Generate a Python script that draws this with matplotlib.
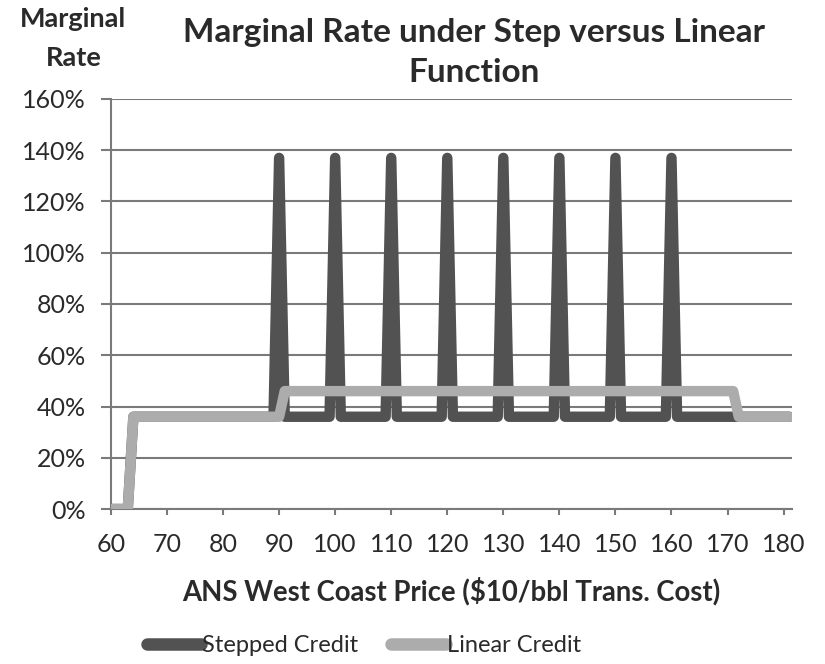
import matplotlib
matplotlib.use("Agg")
import matplotlib.pyplot as plt
from matplotlib.ticker import FuncFormatter
from matplotlib.lines import Line2D

plt.rcParams['font.family'] = ['Lato', 'DejaVu Sans']

# Data (breakpoints of the line series, in % marginal rate)
stepped_x = [60, 63, 64, 89, 90, 91, 99, 100, 101, 109, 110, 111, 119, 120, 121,
             129, 130, 131, 139, 140, 141, 149, 150, 151, 159, 160, 161, 181]
stepped_y = [0, 0, 36, 36, 137, 36, 36, 137, 36, 36, 137, 36, 36, 137, 36,
             36, 137, 36, 36, 137, 36, 36, 137, 36, 36, 137, 36, 36]
linear_x = [60, 63, 64, 90, 91, 171, 172, 181]
linear_y = [0, 0, 36, 36, 46, 46, 36, 36]

x_ticks = [60, 70, 80, 90, 100, 110, 120, 130, 140, 150, 160, 170, 180]
y_ticks = [0, 20, 40, 60, 80, 100, 120, 140, 160]

dark = '#525252'
light = '#acacac'
grid_c = '#7a7a7a'
text_c = '#2a2a2a'

fig = plt.figure(figsize=(8.25, 6.64), dpi=100)
ax = fig.add_axes([0.1345, 0.2334, 0.9600 - 0.1345, 0.851 - 0.2334])

ax.plot(stepped_x, stepped_y, color=dark, lw=7.5, solid_joinstyle='round',
        solid_capstyle='round', zorder=3)
ax.plot(linear_x, linear_y, color=light, lw=7.5, solid_joinstyle='round',
        solid_capstyle='round', zorder=4)

ax.set_xlim(60, 181.5)
ax.set_ylim(0, 160)
ax.set_xticks(x_ticks)
ax.set_yticks(y_ticks)
ax.yaxis.set_major_formatter(FuncFormatter(lambda v, p: f"{int(v)}%"))
ax.grid(axis='y', color=grid_c, lw=1.5, zorder=1)
ax.set_axisbelow(True)
for s in ['top', 'right']:
    ax.spines[s].set_visible(False)
ax.spines['left'].set_color(grid_c)
ax.spines['bottom'].set_color(grid_c)
ax.spines['left'].set_linewidth(1.5)
ax.spines['bottom'].set_linewidth(1.5)
ax.tick_params(axis='y', length=7, width=1.5, color=grid_c, labelsize=18, pad=11)
ax.tick_params(axis='x', length=4, width=1.5, color=grid_c, labelsize=18, pad=13)
for lbl in ax.get_xticklabels() + ax.get_yticklabels():
    lbl.set_color(text_c)

fig.text(0.575, 0.973, "Marginal Rate under Step versus Linear\nFunction",
         ha='center', va='top', fontsize=24, fontweight='bold', color=text_c,
         linespacing=1.45)
fig.text(0.089, 0.99, "Marginal\nRate", ha='center', va='top', fontsize=19.5,
         fontweight='bold', color=text_c, linespacing=1.75)
fig.text(0.547, 0.11, "ANS West Coast Price ($10/bbl Trans. Cost)", ha='center',
         va='center', fontsize=19.8, fontweight='bold', color=text_c)

handles = [Line2D([], [], color=dark, lw=9, solid_capstyle='round'),
           Line2D([], [], color=light, lw=9, solid_capstyle='round')]
leg = fig.legend(handles, ['Stepped Credit', 'Linear Credit'], loc='center',
                 bbox_to_anchor=(0.441, 0.028), ncol=2, frameon=False, fontsize=17,
                 handlelength=2.3, handletextpad=0.05, columnspacing=1.4)
for t in leg.get_texts():
    t.set_color(text_c)

fig.savefig('out.png', dpi=100)
